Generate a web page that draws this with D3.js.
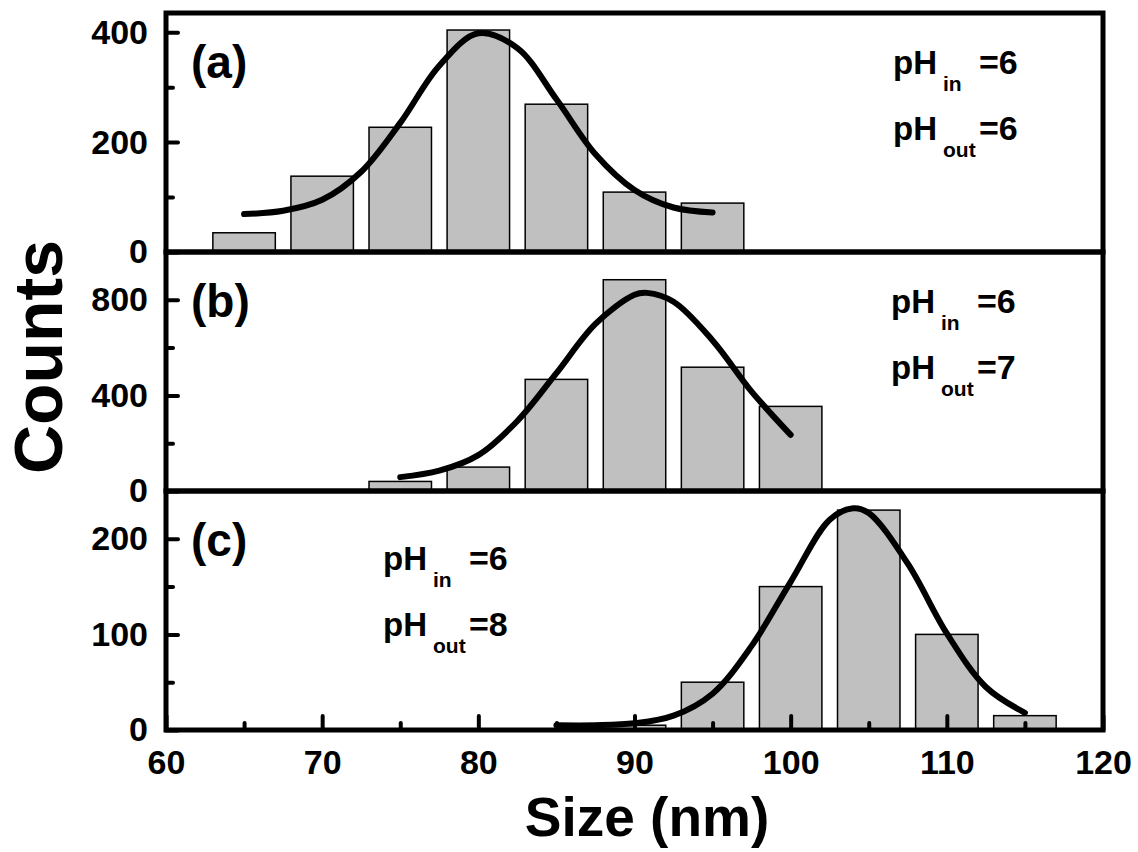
<!DOCTYPE html>
<html>
<head>
<meta charset="utf-8">
<script src="https://cdn.jsdelivr.net/npm/d3@7"></script>
<style>
  body { margin: 0; background: #fff; }
  text { font-family: "Liberation Sans", Arial, sans-serif; font-weight: bold; fill: #000; }
</style>
</head>
<body>
<svg class="chart" width="1138" height="852"></svg>
<script>
// bin centres (nm) and counts
var binsA = [65, 70, 75, 80, 85, 90, 95];
var countsA = [35, 138, 227, 404, 269, 109, 89];
var binsB = [75, 80, 85, 90, 95, 100];
var countsB = [40, 100, 467, 884, 518, 354];
var binsC = [90, 95, 100, 105, 110, 115];
var countsC = [5, 50, 150, 230, 100, 15];

// fitted curves, sampled off the figure
var fitXA = [65, 67.5, 70, 72.5, 75, 77.5, 80, 82.5, 85, 87.5, 90, 92.5, 95];
var fitYA = [69, 75, 95, 146, 235, 339, 398, 371, 278, 178, 113, 81, 72];
var fitXB = [75, 77.5, 80, 82.5, 85, 87.5, 90, 90.8, 92.5, 95, 97.5, 100];
var fitYB = [58, 85, 150, 293, 493, 699, 821, 829, 792, 630, 416, 235];
var fitXC = [85, 87.5, 90, 92.5, 95, 97.5, 100, 102.5, 104, 105, 107.5, 110, 112.5, 115];
var fitYC = [5, 5, 7, 15, 38, 88, 155, 220, 232, 227, 174, 101, 45, 18];

var panelLabels = ["(a)", "(b)", "(c)"];
var phIn = [6, 6, 6];
var phOut = [6, 7, 8];

var yMax = [435, 1000, 250];
var yMajor = [[0, 200, 400], [0, 400, 800], [0, 100, 200]];
var yMinor = [[100, 300], [200, 600], [50, 150]];
var xMajor = [60, 70, 80, 90, 100, 110, 120];
var xMinor = [65, 75, 85, 95, 105, 115];

var svg = d3.select(".chart"),
    margin = {top: 13, left: 166},
    width = 937,
    panelH = 239,
    g = svg.append("g").attr("transform", "translate(" + margin.left + "," + margin.top + ")");

var x = d3.scaleLinear().domain([60, 120]).range([0, width]);

var panels = [
  {bins: binsA, counts: countsA, fx: fitXA, fy: fitYA},
  {bins: binsB, counts: countsB, fx: fitXB, fy: fitYB},
  {bins: binsC, counts: countsC, fx: fitXC, fy: fitYC}
];
// text placement per panel (pH block)
var phPos = [{x: 727, y: 61}, {x: 725, y: 61}, {x: 217, y: 79}];

panels.forEach(function(p, i) {
  var pg = g.append("g").attr("transform", "translate(0," + (i * panelH) + ")");
  var y = d3.scaleLinear().domain([0, yMax[i]]).range([panelH, 0]);

  // bars, 4 nm wide
  pg.selectAll("rect.bar")
    .data(p.bins)
    .enter().append("rect")
      .attr("class", "bar")
      .attr("x", function(d) { return x(d - 2); })
      .attr("width", function(d) { return x(d + 2) - x(d - 2); })
      .attr("y", function(d, j) { return y(p.counts[j]); })
      .attr("height", function(d, j) { return panelH - y(p.counts[j]); })
      .attr("fill", "#c0c0c0")
      .attr("stroke", "#000")
      .attr("stroke-width", 1.5);

  var line = d3.line()
    .x(function(d) { return x(d); })
    .y(function(d, j) { return y(p.fy[j]); })
    .curve(d3.curveCatmullRom.alpha(0.5));

  pg.append("path")
    .datum(p.fx)
    .attr("fill", "none")
    .attr("stroke", "#000")
    .attr("stroke-width", 6)
    .attr("stroke-linecap", "round")
    .attr("stroke-linejoin", "round")
    .attr("d", line);

  // frame
  pg.append("rect")
    .attr("width", width)
    .attr("height", panelH)
    .attr("fill", "none")
    .attr("stroke", "#000")
    .attr("stroke-width", 5);

  // y axis: major with labels, minor without
  var ya = pg.append("g")
    .call(d3.axisLeft(y).tickValues(yMajor[i]).tickSize(-12).tickPadding(18).tickFormat(d3.format("d")));
  ya.select(".domain").remove();
  ya.selectAll("line").attr("stroke-width", 4).attr("stroke-linecap", "round");
  ya.selectAll("text").style("font-size", "34px").attr("font-family", null);

  var ym = pg.append("g")
    .call(d3.axisLeft(y).tickValues(yMinor[i]).tickSize(-7).tickFormat(""));
  ym.select(".domain").remove();
  ym.selectAll("line").attr("stroke-width", 4).attr("stroke-linecap", "round");

  pg.append("text")
    .attr("x", 25)
    .attr("y", 65)
    .style("font-size", "46px")
    .text(panelLabels[i]);

  var ph = phPos[i];
  [["in", phIn[i]], ["out", phOut[i]]].forEach(function(s, k) {
    var by = ph.y + k * 66;
    pg.append("text").attr("x", ph.x).attr("y", by).style("font-size", "33px").text("pH");
    pg.append("text").attr("x", ph.x + 50).attr("y", by + 17).style("font-size", "21px").text(s[0]);
    pg.append("text").attr("x", ph.x + 86).attr("y", by).style("font-size", "34px").text("=" + s[1]);
  });

  if (i === 2) {
    var xa = pg.append("g")
      .attr("transform", "translate(0," + panelH + ")")
      .call(d3.axisBottom(x).tickValues(xMajor).tickSize(-14).tickPadding(20).tickFormat(d3.format("d")));
    xa.select(".domain").remove();
    xa.selectAll("line").attr("stroke-width", 4).attr("stroke-linecap", "round");
    xa.selectAll("text").style("font-size", "34px").attr("font-family", null);

    var xm = pg.append("g")
      .attr("transform", "translate(0," + panelH + ")")
      .call(d3.axisBottom(x).tickValues(xMinor).tickSize(-7).tickFormat(""));
    xm.select(".domain").remove();
    xm.selectAll("line").attr("stroke-width", 4).attr("stroke-linecap", "round");
  }
});

svg.append("text")
  .attr("transform", "translate(62,357) rotate(-90)")
  .attr("text-anchor", "middle")
  .style("font-size", "68px")
  .text("Counts");

svg.append("text")
  .attr("x", 647)
  .attr("y", 836)
  .attr("text-anchor", "middle")
  .style("font-size", "55px")
  .text("Size (nm)");
</script>
</body>
</html>
